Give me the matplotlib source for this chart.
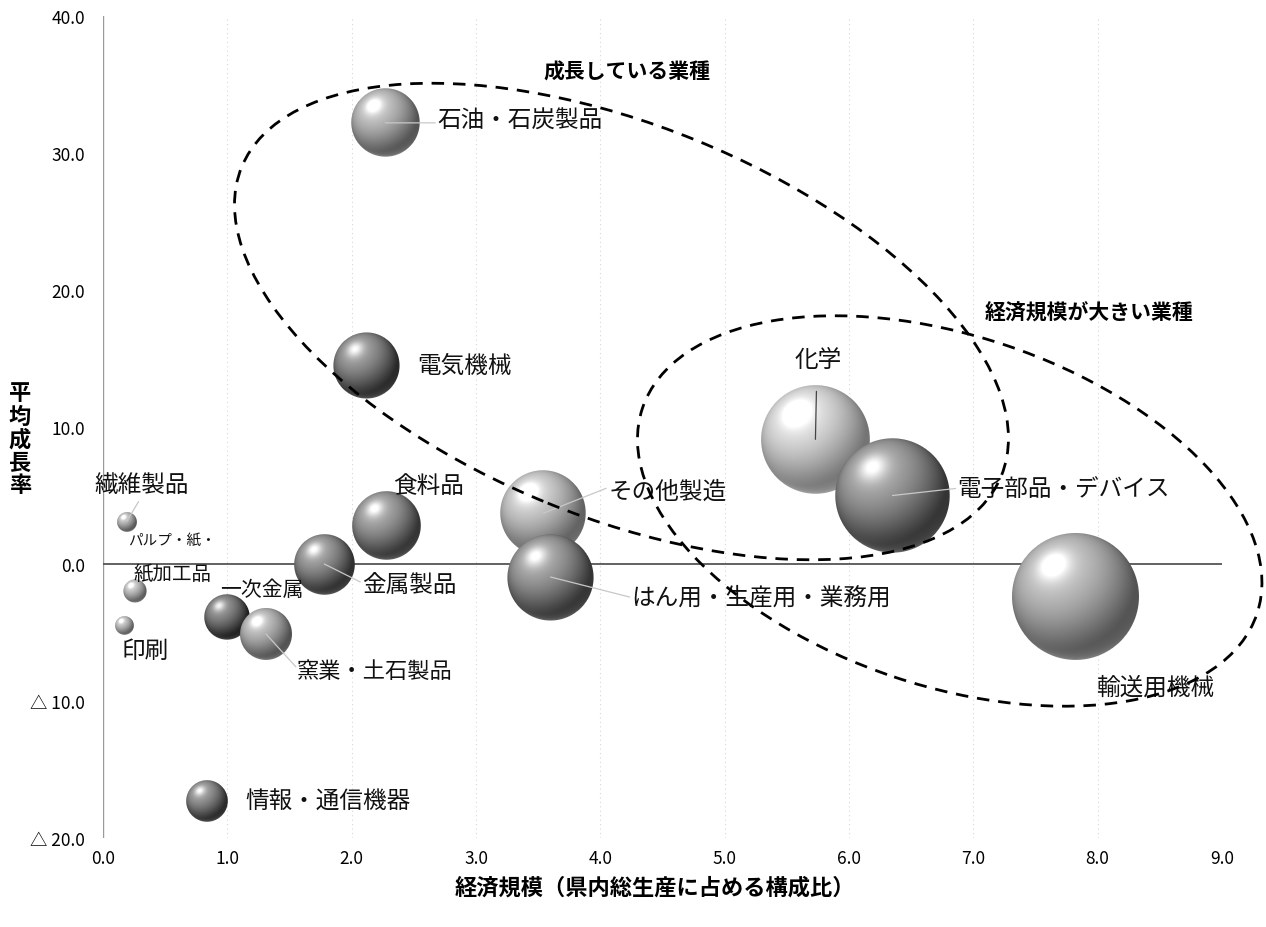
import numpy as np
import matplotlib
matplotlib.use("Agg")
import matplotlib.pyplot as plt
from matplotlib.offsetbox import OffsetImage, AnnotationBbox
from matplotlib.patches import Ellipse
from matplotlib.transforms import IdentityTransform

plt.rcParams['font.family'] = ['Noto Sans CJK JP', 'DejaVu Sans']

# ---------------- data ----------------
industries = ['繊維製品', 'パルプ・紙・紙加工品', '印刷', '一次金属', '窯業・土石製品',
              '金属製品', '食料品', '石油・石炭製品', '電気機械', '情報・通信機器',
              'その他製造', 'はん用・生産用・業務用', '化学', '電子部品・デバイス', '輸送用機械']
share = [0.19, 0.26, 0.17, 1.00, 1.31, 1.78, 2.28, 2.27, 2.12, 0.84,
         3.54, 3.60, 5.73, 6.35, 7.82]          # 経済規模（県内総生産に占める構成比）
growth = [3.1, -2.0, -4.5, -3.9, -5.1, 0.0, 2.8, 32.2, 14.5, -17.3,
          3.7, -0.95, 9.1, 5.0, -2.4]          # 平均成長率
bubble_size = share                              # bubble area ~ economic scale

x_ticks = [0, 1, 2, 3, 4, 5, 6, 7, 8, 9]
x_tick_labels = ['0.0', '1.0', '2.0', '3.0', '4.0', '5.0', '6.0', '7.0', '8.0', '9.0']
y_ticks = [-20, -10, 0, 10, 20, 30, 40]
y_tick_labels = ['△ 20.0', '△ 10.0', '0.0', '10.0', '20.0', '30.0', '40.0']

# ---------------- styles ----------------
tones = [0.65, 0.7, 0.7, 0.15, 0.6, 0.3, 0.35, 0.62, 0.25, 0.25,
         0.75, 0.35, 0.9, 0.35, 0.62]
# label offsets in pixels (dx right, dy down), alignment, font size
label_style = {
    '繊維製品': (15, -37, 'center', 17),
    '印刷': (21, 25, 'center', 17),
    '一次金属': (34, -28, 'center', 15),
    '窯業・土石製品': (31, 37, 'left', 16),
    '金属製品': (38, 20, 'left', 17),
    '食料品': (42, -40, 'center', 17),
    '石油・石炭製品': (52, -3, 'left', 17),
    '電気機械': (51, 0, 'left', 17),
    '情報・通信機器': (38, 0, 'left', 17),
    'その他製造': (65, -22, 'left', 17),
    'はん用・生産用・業務用': (81, 20, 'left', 17),
    '化学': (3, -80, 'center', 17),
    '電子部品・デバイス': (65, -7, 'left', 17),
    '輸送用機械': (80, 90, 'center', 17),
}
leaders = {  # (label-side point offset px, bubble-side offset px)
    '石油・石炭製品': ((50, 0), (30, 0)),
    'その他製造': ((63, -25), (0, 10)),
    'はん用・生産用・業務用': ((79, 20), (0, -10)),
    '電子部品・デバイス': ((63, -7), (0, -3)),
    '金属製品': ((36, 18), (5, 2)),
    '窯業・土石製品': ((30, 33), (14, 20)),
    '化学': ((1, -48), (1, 5)),
    '繊維製品': ((12, -20), (8, -6)),
}

W, H, DPI = 1266, 928, 100
fig = plt.figure(figsize=(W / DPI, H / DPI), dpi=DPI)
fig.patch.set_facecolor('white')
ax = fig.add_axes([103 / W, 89 / H, 1119 / W, 822 / H])
ax.set_xlim(0, 9)
ax.set_ylim(-20, 40)
for s in ax.spines.values():
    s.set_visible(False)
ax.set_xticks(x_ticks)
ax.set_xticklabels(x_tick_labels, fontsize=12.5)
ax.set_yticks(y_ticks)
ax.set_yticklabels(y_tick_labels, fontsize=12.5)
ax.tick_params(length=0)
ax.tick_params(axis='x', pad=8)
ax.tick_params(axis='y', pad=13)

# grid / axis lines
for xv in x_ticks[1:]:
    ax.axvline(xv, color='#d6d6d6', lw=0.8, ls=(0, (1, 3)), zorder=0)
ax.axvline(0, color='#9a9a9a', lw=1.0, zorder=1)
ax.axhline(0, color='#555555', lw=1.3, zorder=1)

PX = 72.0 / DPI  # pixel -> points


def sphere(r, tone):
    n = int(np.ceil(2 * r)) + 2
    c = (n - 1) / 2.0
    yy, xx = np.mgrid[0:n, 0:n]
    nx = (xx - c) / r
    ny = (yy - c) / r
    d = np.sqrt(nx ** 2 + ny ** 2)
    nz = np.sqrt(np.clip(1 - d ** 2, 0, 1))
    L = np.array([-0.35, -0.5, 0.79])
    L = L / np.linalg.norm(L)
    diff = np.clip(nx * L[0] + ny * L[1] + nz * L[2], 0, 1)
    spec = diff ** 30
    lo = 0.05 + 0.45 * tone
    hi = 0.55 + 0.42 * tone
    g = lo + (hi - lo) * diff ** 1.3 + 0.35 * spec
    rim = 0.25 * np.clip(ny, 0, 1) ** 2 * (1 - nz) ** 2
    g = np.clip(g + rim, 0, 1)
    alpha = np.clip((1 - d) * r + 0.5, 0, 1)
    return np.dstack([g, g, g, alpha])


for i, name in enumerate(industries):
    r = 22.7 * np.sqrt(bubble_size[i])
    img = OffsetImage(sphere(r, tones[i]), zoom=1, dpi_cor=False)
    ab = AnnotationBbox(img, (share[i], growth[i]), frameon=False, pad=0,
                        zorder=3 + i * 0.01)
    ax.add_artist(ab)

# leader lines
for name, ((lx, ly), (bx, by)) in leaders.items():
    i = industries.index(name)
    col = '#444444' if name == '化学' else '#c8c8c8'
    ax.annotate('', xy=(share[i], growth[i]), xytext=(lx * PX, -ly * PX),
                textcoords='offset points',
                arrowprops=dict(arrowstyle='-', color=col, lw=0.9,
                                shrinkA=0, shrinkB=0,
                                relpos=(0.5, 0.5)),
                zorder=4)

# labels
for name, (dx, dy, ha, fs) in label_style.items():
    i = industries.index(name)
    ax.annotate(name, xy=(share[i], growth[i]), xytext=(dx * PX, -dy * PX),
                textcoords='offset points', ha=ha, va='center',
                fontsize=fs, color='#111111', zorder=5)
ip = industries.index('パルプ・紙・紙加工品')
ax.annotate('パルプ・紙・', xy=(share[ip], growth[ip]), xytext=(-7 * PX, 52 * PX),
            textcoords='offset points', ha='left', va='center', fontsize=10.5,
            color='#111111', zorder=5)
ax.annotate('紙加工品', xy=(share[ip], growth[ip]), xytext=(37 * PX, 18 * PX),
            textcoords='offset points', ha='center', va='center', fontsize=14,
            color='#111111', zorder=5)

# dashed group ellipses (drawn in pixel space so they stay elliptical)
def group_ellipse(cx, cy, a, b, ang):
    cpix = ax.transData.transform((cx, cy))
    e = Ellipse(cpix, 2 * a, 2 * b, angle=ang, transform=IdentityTransform(),
                fill=False, ec='black', lw=2.0, ls=(0, (4.5, 3.2)),
                clip_on=False, zorder=6)
    ax.add_patch(e)

group_ellipse(4.17, 17.7, 410, 196, -22.1)
group_ellipse(6.81, 3.87, 324, 175, -18.5)

ax.text(4.21, 36.0, '成長している業種', fontsize=15, fontweight='bold',
        ha='center', va='center', zorder=7)
ax.text(7.93, 18.4, '経済規模が大きい業種', fontsize=15, fontweight='bold',
        ha='center', va='center', zorder=7)

fig.text(655 / W, 1 - 888 / H, '経済規模（県内総生産に占める構成比）', fontsize=16,
         fontweight='bold', ha='center', va='center')
fig.text(20 / W, 1 - 440 / H, '平\n均\n成\n長\n率', fontsize=16,
         fontweight='bold', ha='center', va='center', linespacing=1.0)

fig.savefig('out.png', dpi=DPI, facecolor='white')
